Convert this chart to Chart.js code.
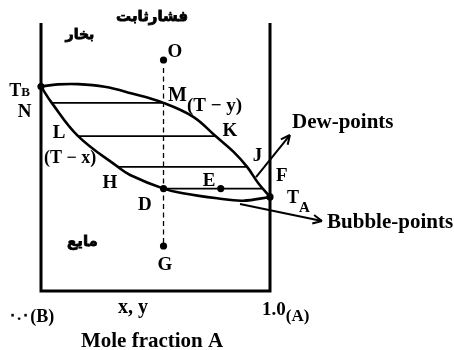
<!DOCTYPE html>
<html>
<head>
<meta charset="utf-8">
<script src="https://cdn.jsdelivr.net/npm/chart.js@4.4.1/dist/chart.umd.min.js"></script>
<style>
  body { margin: 0; background: #fff; }
  #wrap { width: 454px; height: 350px; }
</style>
</head>
<body>
<div id="wrap"><canvas id="phaseChart"></canvas></div>
<script>
// x: mole fraction of A, t: temperature (relative units, 0..100)
const dewX = [0, 0.074, 0.162, 0.278, 0.393, 0.535, 0.665, 0.762, 0.840, 0.900, 0.949, 1.0];
const dewT = [76.3, 77.1, 77.2, 76.2, 73.8, 70.2, 65.0, 57.8, 52.0, 46.3, 40.2, 35.1];
const bubbleX = [0, 0.047, 0.162, 0.336, 0.389, 0.535, 0.620, 0.769, 0.882, 1.0];
const bubbleT = [76.3, 70.2, 57.8, 46.3, 43.3, 38.2, 36.5, 34.6, 33.7, 35.1];

// tie lines (liquid x -> vapour y at one temperature)
const tieT = [70.2, 57.8, 46.3, 38.2];
const tieFrom = [0.047, 0.162, 0.336, 0.535];
const tieTo = [0.535, 0.762, 0.900, 0.968];

// marked states
const pointX = [0.535, 0, 0.535, 0.785, 1.0, 0.535];
const pointT = [86.2, 76.3, 38.2, 38.2, 35.1, 16.8];

// constant composition line O -> G
const isoX = 0.535;
const isoT = [83.2, 16.8];

// arrows pointing at the two curves
const dewArrowX = [0.939, 1.087];
const dewArrowT = [42.5, 58.2];
const bubbleArrowX = [0.869, 1.227];
const bubbleArrowT = [32.5, 26.1];

const SERIF = "'Liberation Serif', 'Times New Roman', 'DejaVu Serif', serif";
const ARABIC = "'DejaVu Sans', sans-serif";

// text: [string, size, dy]
const labels = [
  { x: 0.485, t: 100.7, parts: [["فشارثابت", 15]], font: ARABIC },
  { x: 0.170, t: 94.0, parts: [["بخار", 14]], font: ARABIC },
  { x: 0.181, t: 16.8, parts: [["مایع", 15]], font: ARABIC },
  { x: 0.585, t: 87.5, parts: [["O", 19]] },
  { x: -0.094, t: 72.6, parts: [["T", 18], ["B", 13]] },
  { x: -0.072, t: 64.9, parts: [["N", 19]] },
  { x: 0.555, t: 70.9, align: "left", parts: [["M", 20], ["(T − y)", 19, 10]] },
  { x: 0.825, t: 58.0, parts: [["K", 19]] },
  { x: 0.079, t: 57.1, parts: [["L", 19]] },
  { x: 0.127, t: 47.6, parts: [["(T − x)", 18]] },
  { x: 0.301, t: 38.4, parts: [["H", 19]] },
  { x: 0.945, t: 48.5, parts: [["J", 19]] },
  { x: 0.734, t: 39.0, parts: [["E", 19]] },
  { x: 1.051, t: 40.9, parts: [["F", 19]] },
  { x: 0.454, t: 30.4, parts: [["D", 19]] },
  { x: 0.541, t: 8.0, parts: [["G", 19]] },
  { x: 1.074, t: 32.8, align: "left", parts: [["T", 18], ["A", 15, 9]] },
  { x: 1.096, t: 60.7, align: "left", parts: [["Dew-points", 21]] },
  { x: 1.249, t: 23.5, align: "left", parts: [["Bubble-points", 21]] },
  { x: -0.144, t: -11.4, align: "left", parts: [["۰.۰", 17, -2], ["(B)", 18]] },
  { x: 0.402, t: -8.2, parts: [["x, y", 20]] },
  { x: 0.965, t: -9.0, align: "left", parts: [["1.0", 19], ["(A)", 17, 6]] },
  { x: 0.485, t: -20.9, parts: [["Mole fraction A", 21]] }
];

const pts = (xs, ts) => xs.map((x, i) => ({ x: x, y: ts[i] }));

const line = (data, width, extra) => Object.assign({
  data: data,
  showLine: true,
  borderColor: "#000",
  backgroundColor: "#000",
  borderWidth: width,
  pointRadius: 0,
  clip: false
}, extra || {});

const datasets = [
  line(pts(pointX, pointT), 0, { showLine: false, pointRadius: 3.6, pointBorderWidth: 0 }),
  line(pts(dewX, dewT), 2.6, { tension: 0.4 }),
  line(pts(bubbleX, bubbleT), 2.6, { tension: 0.4 }),
  line(pts([isoX, isoX], isoT), 1.3, { borderDash: [5, 3.5] }),
  line(pts(dewArrowX, dewArrowT), 2, { arrow: true }),
  line(pts(bubbleArrowX, bubbleArrowT), 2, { arrow: true }),
  line([{ x: 0, y: 100 }, { x: 0, y: 0 }, { x: 1, y: 0 }, { x: 1, y: 100 }], 3, { borderJoinStyle: "miter" })
];
tieT.forEach((t, i) => datasets.push(line(pts([tieFrom[i], tieTo[i]], [t, t]), 1.8)));

const annotate = {
  id: "annotate",
  afterDatasetsDraw(chart) {
    const ctx = chart.ctx;
    const xs = chart.scales.x, ys = chart.scales.y;
    ctx.save();
    ctx.fillStyle = "#000";
    ctx.strokeStyle = "#000";

    // arrow heads
    chart.data.datasets.forEach((ds, i) => {
      if (!ds.arrow) return;
      const el = chart.getDatasetMeta(i).data;
      const a = el[el.length - 2], b = el[el.length - 1];
      const ang = Math.atan2(b.y - a.y, b.x - a.x);
      ctx.lineWidth = 2;
      ctx.beginPath();
      [-0.45, 0.45].forEach(d => {
        ctx.moveTo(b.x, b.y);
        ctx.lineTo(b.x - 10 * Math.cos(ang + d), b.y - 10 * Math.sin(ang + d));
      });
      ctx.stroke();
    });

    // text
    ctx.textBaseline = "alphabetic";
    ctx.textAlign = "left";
    labels.forEach(lab => {
      const fam = lab.font || SERIF;
      const widths = lab.parts.map(p => {
        ctx.font = "bold " + p[1] + "px " + fam;
        return ctx.measureText(p[0]).width;
      });
      const total = widths.reduce((s, w) => s + w, 0);
      const px = xs.getPixelForValue(lab.x);
      const py = ys.getPixelForValue(lab.t);
      let cx = lab.align === "left" ? px : px - total / 2;
      lab.parts.forEach((p, i) => {
        ctx.font = "bold " + p[1] + "px " + fam;
        ctx.fillText(p[0], cx, py + (p[2] || 0));
        if (lab.font === ARABIC) {
          // the sans Arabic face is light next to the serif labels
          ctx.lineWidth = 0.8;
          ctx.strokeText(p[0], cx, py + (p[2] || 0));
        }
        cx += widths[i];
      });
    });
    ctx.restore();
  }
};

new Chart(document.getElementById("phaseChart"), {
  type: "scatter",
  data: { datasets },
  options: {
    responsive: true,
    maintainAspectRatio: false,
    animation: false,
    layout: { padding: { left: 41, right: 184, top: 23, bottom: 59 } },
    scales: {
      x: { type: "linear", min: 0, max: 1, display: false },
      y: { type: "linear", min: 0, max: 100, display: false }
    },
    plugins: { legend: { display: false }, tooltip: { enabled: false } }
  },
  plugins: [annotate]
});
</script>
</body>
</html>
